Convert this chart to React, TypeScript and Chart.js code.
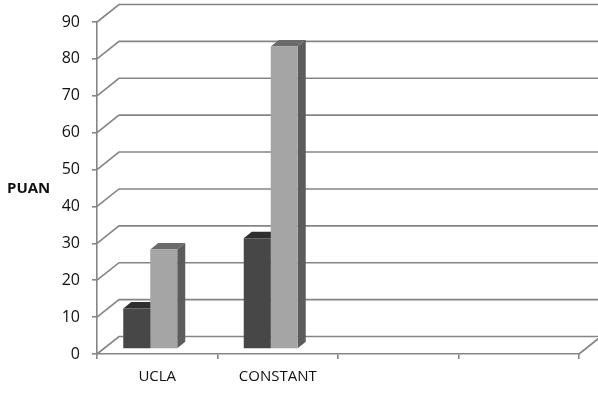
import React, { useEffect, useRef } from "react";
import { Chart, registerables } from "chart.js";

Chart.register(...registerables);

const categories = ["UCLA", "CONSTANT", "", ""];
const seriesDark = [11, 30, null, null];
const seriesLight = [27, 82, null, null];
const yTicks = [0, 10, 20, 30, 40, 50, 60, 70, 80, 90];
const yTitle = "PUAN";

const GRID = "#858585";
const TEXT = "#111111";
const WALL_DX = 22;
const WALL_DY = 17.5;
const BAR_SHIFT_X = -7;
const BAR_SHIFT_Y = -5;
const BAR_DX = 8;
const BAR_DY = 6.5;
const FACES = [
  { front: "#474747", top: "#2f2f2f", side: "#333333" },
  { front: "#a5a5a5", top: "#6b6b6b", side: "#5c5c5c" },
];

const threeD = {
  id: "threeD",
  beforeDatasetsDraw(chart: any) {
    const { ctx, chartArea, scales } = chart;
    const y = scales.y;
    const W = chart.width;
    ctx.save();
    ctx.strokeStyle = GRID;
    ctx.lineWidth = 1.6;
    ctx.beginPath();
    for (const v of yTicks) {
      const py = y.getPixelForValue(v);
      ctx.moveTo(chartArea.left, py);
      ctx.lineTo(chartArea.left + WALL_DX, py - WALL_DY);
      ctx.lineTo(W + 5, py - WALL_DY);
    }
    const p0 = y.getPixelForValue(0);
    ctx.moveTo(chartArea.right, p0);
    ctx.lineTo(chartArea.right + WALL_DX, p0 - WALL_DY);
    ctx.stroke();
    ctx.restore();

    ctx.save();
    ctx.fillStyle = TEXT;
    ctx.font = "bold 15px 'Open Sans'";
    ctx.textAlign = "left";
    ctx.textBaseline = "middle";
    ctx.fillText(yTitle, 7, 189);
    ctx.restore();

    ctx.save();
    ctx.translate(BAR_SHIFT_X, BAR_SHIFT_Y);
    const n = categories.length;
    for (let i = 0; i < n; i++) {
      chart.data.datasets.forEach((ds: any, di: number) => {
        const meta = chart.getDatasetMeta(di);
        const el: any = meta.data[i];
        if (!el || ds.data[i] == null) return;
        const { x, y: top, base, width } = el.getProps(["x", "y", "base", "width"], true);
        const l = x - width / 2;
        const r = x + width / 2;
        const f = FACES[di];
        ctx.fillStyle = f.top;
        ctx.beginPath();
        ctx.moveTo(l, top);
        ctx.lineTo(l + BAR_DX, top - BAR_DY);
        ctx.lineTo(r + BAR_DX, top - BAR_DY);
        ctx.lineTo(r, top);
        ctx.closePath();
        ctx.fill();
        ctx.fillStyle = f.side;
        ctx.beginPath();
        ctx.moveTo(r, top);
        ctx.lineTo(r + BAR_DX, top - BAR_DY);
        ctx.lineTo(r + BAR_DX, base - BAR_DY);
        ctx.lineTo(r, base);
        ctx.closePath();
        ctx.fill();
      });
    }
  },
  afterDatasetsDraw(chart: any) {
    chart.ctx.restore();
  },
};

export default function App() {
  const ref = useRef<HTMLCanvasElement>(null);
  useEffect(() => {
    if (!ref.current) return;
    const chart = new Chart(ref.current, {
      type: "bar",
      data: {
        labels: categories,
        datasets: [
          { data: seriesDark, backgroundColor: FACES[0].front, borderWidth: 0 },
          { data: seriesLight, backgroundColor: FACES[1].front, borderWidth: 0 },
        ],
      },
      options: {
        responsive: false,
        animation: false,
        devicePixelRatio: 1,
        layout: { padding: { top: 22, right: 19, left: 0, bottom: 0 } },
        datasets: { bar: { barPercentage: 1, categoryPercentage: 0.448 } },
        plugins: { legend: { display: false }, tooltip: { enabled: false } },
        scales: {
          x: {
            grid: { display: true, drawOnChartArea: false, drawTicks: true, tickLength: 5, color: GRID, lineWidth: 1.6 },
            border: { display: true, color: GRID, width: 1.6 },
            ticks: { color: TEXT, font: { family: "'Open Sans'", size: 15 }, padding: 9, maxRotation: 0, autoSkip: false },
            afterFit: (s: any) => { s.height = 39; },
          },
          y: {
            min: 0,
            max: 90,
            ticks: { stepSize: 10, color: TEXT, font: { family: "'Open Sans'", size: 16 }, padding: 12 },
            grid: { display: true, drawOnChartArea: false, drawTicks: true, tickLength: 5, color: GRID, lineWidth: 1.6 },
            border: { display: true, color: GRID, width: 1.6 },
            afterFit: (s: any) => { s.width = 97; },
          },
        },
      },
      plugins: [threeD],
    });
    return () => chart.destroy();
  }, []);
  return (
    <div style={{ position: "fixed", left: 0, top: 0, width: 598, height: 393, background: "#fff" }}>
      <canvas ref={ref} width={598} height={393} />
    </div>
  );
}
